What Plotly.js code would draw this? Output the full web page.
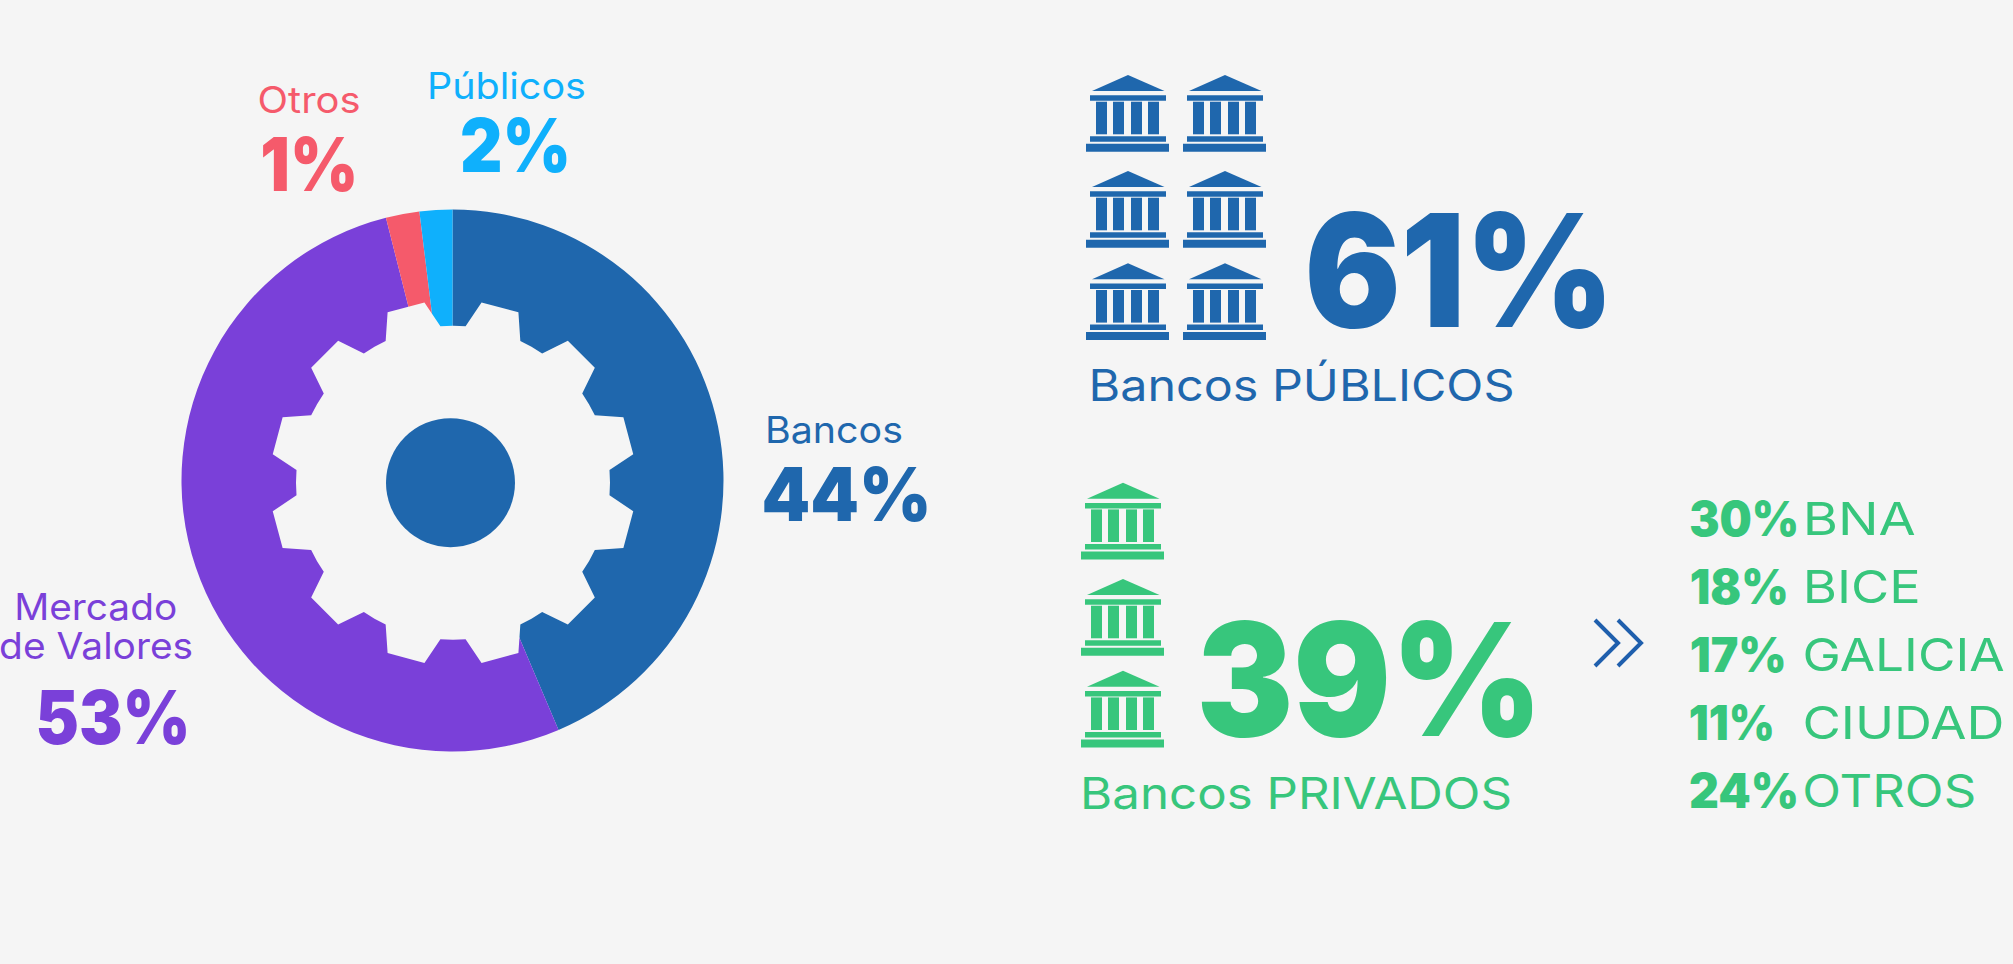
<!DOCTYPE html>
<html><head><meta charset="utf-8">
<script src="https://cdn.plot.ly/plotly-3.0.1.min.js"></script>
<style>html,body{margin:0;padding:0;background:#f5f5f5;overflow:hidden}</style>
</head><body><div id="chart" style="width:2013px;height:964px"></div>
<script>
// Slice sizes as drawn in the picture, in percent of the full circle
const sliceLabels = ["Bancos", "Mercado de Valores", "Otros", "Públicos"];
const sliceValues = [43.6, 52.45, 2.0, 1.95];
const sliceColors = ["#1f67ad", "#7a40d9", "#f55a6b", "#0fb0fc"];
// Percentages as printed beside the slices
const printedShares = ["44%", "53%", "1%", "2%"];
const publicShare = "61%";
const privateShare = "39%";
const publicTitle = "Bancos PÚBLICOS";
const privateTitle = "Bancos PRIVADOS";
const privateBanks = ["BNA", "BICE", "GALICIA", "CIUDAD", "OTROS"];
const privateBankShares = ["30%", "18%", "17%", "11%", "24%"];

const W = 2013, H = 964, BG = "#f5f5f5";
const BLUE = "#1f67ad", GREEN = "#37c67c";
const FONT = "Inter";
const px = x => x / W, py = y => 1 - y / H;
const shapes = [];

function path(points, color) {
  const d = points.map((p, i) => (i ? "L" : "M") + px(p[0]).toFixed(5) + "," + py(p[1]).toFixed(5)).join(" ") + " Z";
  shapes.push({type: "path", xref: "paper", yref: "paper", layer: "above", path: d, fillcolor: color, line: {width: 0}});
}
function box(x0, y0, x1, y1, color) {
  shapes.push({type: "rect", xref: "paper", yref: "paper", layer: "above", x0: px(x0), x1: px(x1), y0: py(y1), y1: py(y0), fillcolor: color, line: {width: 0}});
}
function gear(cx, cy, tip, root, color) {
  const pts = [];
  const at = (r, a) => [cx + r * Math.sin(a * Math.PI / 180), cy - r * Math.cos(a * Math.PI / 180)];
  for (let t = 0; t < 12; t++) {
    const c = 15 + t * 30;
    pts.push(at(root, c - 19.6), at(root, c - 15), at(root, c - 10.4), at(tip, c - 6), at(tip, c + 6));
  }
  path(pts, color);
}
function disc(cx, cy, r, color) {
  shapes.push({type: "circle", xref: "paper", yref: "paper", layer: "above", x0: px(cx - r), x1: px(cx + r), y0: py(cy + r), y1: py(cy - r), fillcolor: color, line: {width: 0}});
}
// Building pictogram, x/y = top-left of an 83 x 77 icon
function bank(x, y, color) {
  path([[x + 6, y + 16], [x + 42, y], [x + 78.5, y + 16]], color);
  box(x + 4, y + 20.3, x + 80, y + 25.7, color);
  [10, 27, 45, 62].forEach(c => box(x + c, y + 26.7, x + c + 11, y + 59.3, color));
  box(x + 4, y + 61.3, x + 80, y + 66.7, color);
  box(x, y + 68.7, x + 83, y + 76.7, color);
}
function chevron(x, color) {
  shapes.push({type: "path", xref: "paper", yref: "paper", layer: "above",
    path: `M${px(x)},${py(620)} L${px(x + 23)},${py(643)} L${px(x)},${py(666)}`,
    line: {color: color, width: 4}, fillcolor: "rgba(0,0,0,0)"});
}

gear(453, 482.7, 182.5, 157, BG);
disc(450.5, 482.7, 64.5, BLUE);
[[1086, 75], [1183, 75], [1086, 171], [1183, 171], [1086, 263.3], [1183, 263.3]].forEach(p => bank(p[0], p[1], BLUE));
[482.7, 579, 670.7].forEach(y => bank(1081, y, GREEN));
chevron(1595, "#1f5fad"); chevron(1618, "#1f5fad");

const notes = [], spans = [];
// Text is placed by its left/right ink edges and the middle of its capitals
function label(text, x0, x1, y, size, color, weight) {
  notes.push({text: text, xref: "paper", yref: "paper", x: px((x0 + x1) / 2), y: py(y), xanchor: "center", yanchor: "middle",
    showarrow: false, align: "center", borderpad: 0, font: {family: FONT, size: size, color: color, weight: weight}});
  spans.push(x1 - x0);
}
label(sliceLabels[2], 257, 360, 100, 36.5, sliceColors[2], 400);
label(printedShares[2], 260, 358, 164, 74, sliceColors[2], 900);
label(sliceLabels[3], 427, 586, 85.5, 36.5, sliceColors[3], 400);
label(printedShares[3], 460, 571, 145, 74, sliceColors[3], 900);
label(sliceLabels[0], 765, 903, 430, 36.5, sliceColors[0], 400);
label(printedShares[0], 761, 931, 494, 74, sliceColors[0], 900);
label("Mercado", 14, 177, 606.5, 36.5, sliceColors[1], 400);
label("de Valores", -1, 193, 646, 36.5, sliceColors[1], 400);
label(printedShares[1], 35, 190, 717, 74, sliceColors[1], 900);
label(publicShare, 1304, 1614, 270, 157, BLUE, 900);
label(publicTitle, 1088, 1514, 385, 44, BLUE, 400);
label(privateShare, 1196, 1542, 679, 157, GREEN, 900);
label(privateTitle, 1080, 1512, 793, 44, GREEN, 400);
const shareEnds = [1799, 1788, 1786, 1775, 1799];
const bankEdges = [[1802, 1915], [1802, 1920], [1802, 2004], [1802, 2004], [1802, 1976]];
privateBanks.forEach((b, i) => {
  const y = 518 + i * 68;
  label(privateBankShares[i], 1689, shareEnds[i], y, 48, GREEN, 900);
  label(b, bankEdges[i][0], bankEdges[i][1], y, 45, GREEN, 400);
});

Plotly.newPlot("chart", [{
  type: "pie", labels: sliceLabels, values: sliceValues, sort: false, direction: "clockwise", rotation: 0,
  hole: 0.5, textinfo: "none", hoverinfo: "label+value",
  marker: {colors: sliceColors, line: {width: 0}},
  domain: {x: [px(452.5 - 271), px(452.5 + 271)], y: [py(480.5 + 271), py(480.5 - 271)]}
}], {
  width: W, height: H, margin: {l: 0, r: 0, t: 0, b: 0, pad: 0},
  paper_bgcolor: BG, plot_bgcolor: BG, showlegend: false,
  shapes: shapes, annotations: notes, font: {family: FONT}
}, {displayModeBar: false, staticPlot: true}).then(gd => {
  gd.querySelectorAll(".annotation-text").forEach((t, i) => {
    t.setAttribute("textLength", spans[i]);
    t.setAttribute("lengthAdjust", "spacingAndGlyphs");
  });
});
</script></body></html>
